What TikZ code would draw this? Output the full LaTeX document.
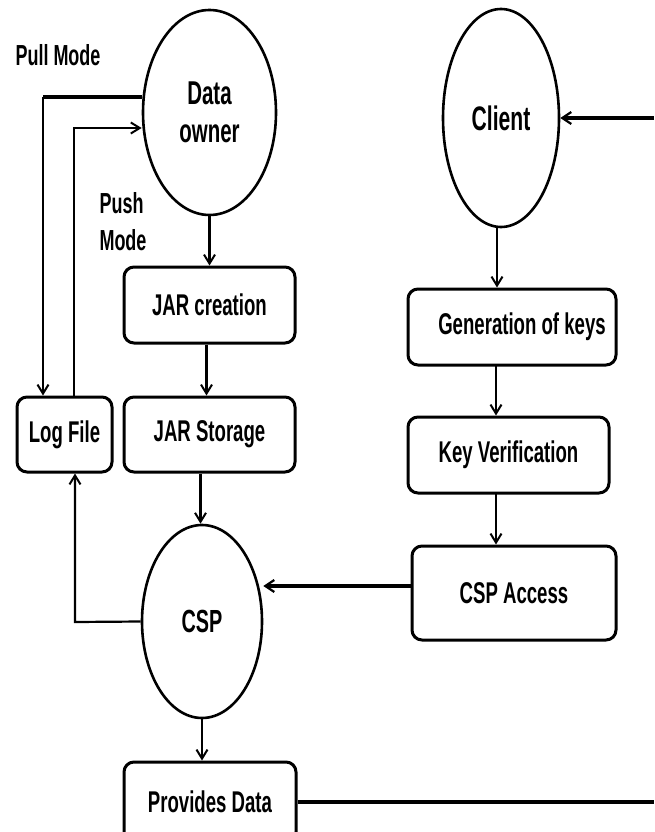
\documentclass[tikz,border=0pt]{standalone}
\usepackage{fontspec}
\newfontfamily\dfont[FakeStretch=0.62]{Liberation Sans}
\usetikzlibrary{shapes.geometric,arrows.meta}
\begin{document}
\begin{tikzpicture}[x=1pt,y=-1pt,
  font=\dfont\bfseries\fontsize{30}{36}\selectfont,
  oval/.style={ellipse,draw,line width=2.6pt,inner sep=0pt,align=center},
  stepbox/.style={rectangle,rounded corners=10pt,draw,line width=3pt,inner sep=0pt,align=center},
  flow/.style={line width=2.2pt,-{Straight Barb[length=9pt,width=11pt,line width=2pt]}},
  flowthick/.style={line width=3.4pt,-{Straight Barb[length=9pt,width=12pt,line width=2.2pt]}},
  plainthick/.style={line width=3.4pt}]
\useasboundingbox (0,0) rectangle (654,832);

% ellipses
\node[oval,minimum width=133pt,minimum height=205pt,font=\dfont\bfseries\fontsize{33}{38}\selectfont] (owner) at (209.5,112.5) {Data\\owner};
\node[oval,minimum width=116pt,minimum height=218pt,font=\dfont\bfseries\fontsize{34}{38}\selectfont] (client) at (501,118) {Client};
\node[oval,minimum width=120pt,minimum height=193pt,font=\dfont\bfseries\fontsize{32}{36}\selectfont] (csp) at (202,621.5) {CSP};

% process boxes
\node[stepbox,minimum width=171pt,minimum height=76pt] (jarc) at (209.5,305) {JAR creation};
\node[stepbox,minimum width=171pt,minimum height=75pt] (jars) at (209.5,434.5) {JAR Storage};
\node[stepbox,minimum width=95pt,minimum height=75pt] (log) at (64.5,434.5) {Log File};
\node[stepbox,minimum width=208pt,minimum height=76pt] (gen) at (512,327) {\hspace*{20pt}Generation of keys};
\node[stepbox,minimum width=201pt,minimum height=76pt] (kver) at (508.5,455) {Key Verification};
\node[stepbox,minimum width=204pt,minimum height=94pt] (cspa) at (514,593) {CSP Access};
\node[stepbox,minimum width=172pt,minimum height=80pt] (prov) at (210,802) {Provides Data};

% labels
\node[font=\dfont\bfseries\fontsize{29}{34}\selectfont] (pullL) at (58,55) {Pull Mode};
\node[anchor=west,align=left,font=\dfont\bfseries\fontsize{29}{37}\selectfont] (pushL) at (96,221.5) {Push\\Mode};

% free ends and bends
\coordinate (pullTop) at (43,97);
\coordinate (pushTop) at (74,128);
\coordinate (cspBend) at (75,622);
\coordinate (rightIn) at (654,118);
\coordinate (rightOut) at (654,802);

% pull mode: owner -> log file
\draw[plainthick] (owner.west |- pullTop) -- (pullTop);
\draw[flow] (pullTop) -- (pullTop |- log.north);
% push mode: log file -> owner
\draw[flow] (pushTop |- log.north) -- (pushTop) -- (owner.west |- pushTop);

% main flow on the owner side
\draw[flow] (owner.south) -- (jarc.north -| owner.south);
\draw[flow] ([xshift=-3pt]jarc.south) -- ([xshift=-3pt]jars.north);
\draw[flow] ([xshift=-9pt]jars.south) -- ([xshift=-9pt]jars.south |- csp.north);
\draw[flow] (csp.west) -- (cspBend) -- (cspBend |- log.south);
\draw[flow] (csp.south) -- (csp.south |- prov.north);

% client side
\draw[flowthick] (rightIn) -- (client.east);
\draw[flow] ([xshift=-4pt]client.south) -- ([xshift=-4pt]client.south |- gen.north);
\draw[flow] (496,365) coordinate (g1) -- (g1 |- kver.north);
\draw[flow] (496,493) coordinate (k1) -- (k1 |- cspa.north);
\draw[flowthick] ([yshift=7pt]cspa.west) -- ([yshift=7pt]cspa.west -| csp.east);
\draw[plainthick] (prov.east) -- (rightOut);
\end{tikzpicture}
\end{document}
